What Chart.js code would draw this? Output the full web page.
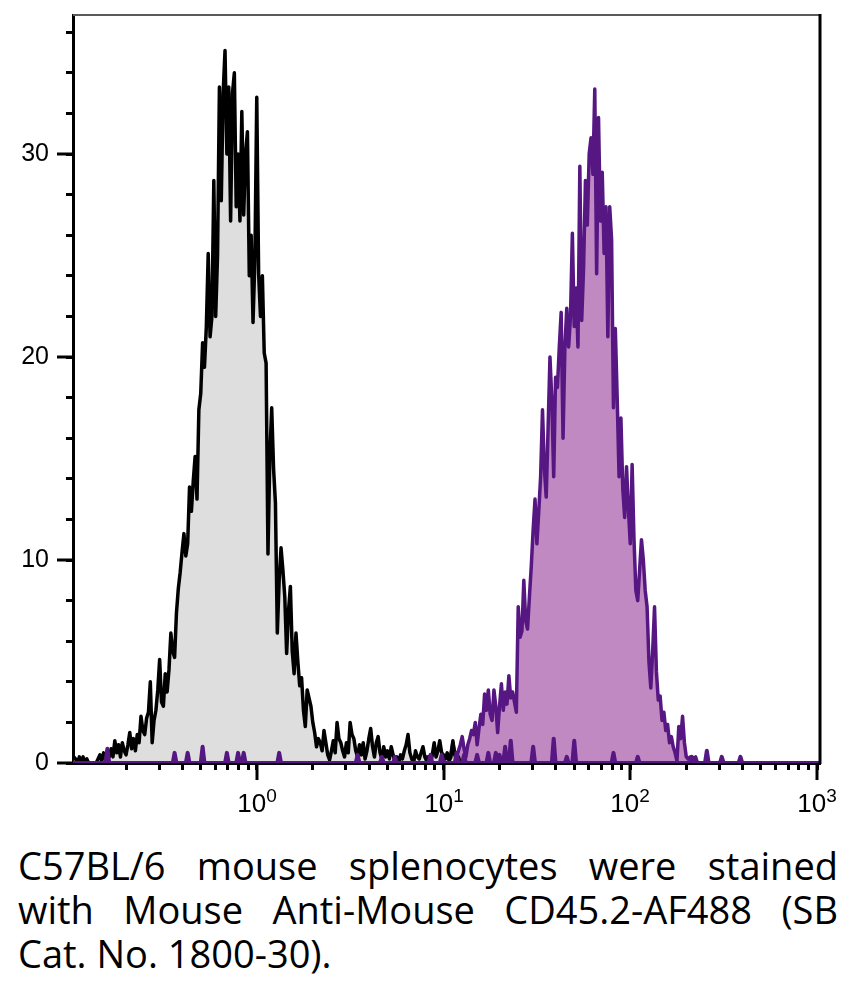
<!DOCTYPE html>
<html lang="en">
<head>
    <meta charset="UTF-8">
    <script src="https://cdn.jsdelivr.net/npm/chart.js"></script>
    <title>CD45.2-AF488 staining of C57BL/6 splenocytes</title>
    <style>
        body { margin: 0; background: #fff; }
        #wrap { position: relative; width: 850px; height: 999px; }
        #histo { position: absolute; left: 0; top: 0; }
        #caption {
            position: absolute; left: 18px; top: 843px; width: 820px;
            font-family: "Open Sans", sans-serif; font-size: 38px; line-height: 44px; color: #000;
        }
        #caption .just { text-align: justify; text-align-last: justify; }
    </style>
</head>
<body>
<div id="wrap">
    <canvas id="histo" width="850" height="830"></canvas>
    <div id="caption">
        <div class="just">C57BL/6 mouse splenocytes were stained</div>
        <div class="just">with Mouse Anti-Mouse CD45.2-AF488 (SB</div>
        <div>Cat. No. 1800-30).</div>
    </div>
</div>

<script>
    // channel positions in decades (log10 of fluorescence)
    const channels = [
        -0.98,-0.97,-0.96,-0.95,-0.94,-0.93,-0.92,-0.91,-0.90,-0.89,
        -0.88,-0.87,-0.86,-0.85,-0.84,-0.83,-0.82,-0.81,-0.80,-0.79,
        -0.78,-0.77,-0.76,-0.75,-0.74,-0.73,-0.72,-0.71,-0.70,-0.69,
        -0.68,-0.67,-0.66,-0.65,-0.64,-0.63,-0.62,-0.61,-0.60,-0.59,
        -0.58,-0.57,-0.56,-0.55,-0.54,-0.53,-0.52,-0.51,-0.50,-0.49,
        -0.48,-0.47,-0.46,-0.45,-0.44,-0.43,-0.42,-0.41,-0.40,-0.39,
        -0.38,-0.37,-0.36,-0.35,-0.34,-0.33,-0.32,-0.31,-0.30,-0.29,
        -0.28,-0.27,-0.26,-0.25,-0.24,-0.23,-0.22,-0.21,-0.20,-0.19,
        -0.18,-0.17,-0.16,-0.15,-0.14,-0.13,-0.12,-0.11,-0.10,-0.09,
        -0.08,-0.07,-0.06,-0.05,-0.04,-0.03,-0.02,-0.01,0.00,0.01,
        0.02,0.03,0.04,0.05,0.06,0.07,0.08,0.09,0.10,0.11,
        0.12,0.13,0.14,0.15,0.16,0.17,0.18,0.19,0.20,0.21,
        0.22,0.23,0.24,0.25,0.26,0.27,0.28,0.29,0.30,0.31,
        0.32,0.33,0.34,0.35,0.36,0.37,0.38,0.39,0.40,0.41,
        0.42,0.43,0.44,0.45,0.46,0.47,0.48,0.49,0.50,0.51,
        0.52,0.53,0.54,0.55,0.56,0.57,0.58,0.59,0.60,0.61,
        0.62,0.63,0.64,0.65,0.66,0.67,0.68,0.69,0.70,0.71,
        0.72,0.73,0.74,0.75,0.76,0.77,0.78,0.79,0.80,0.81,
        0.82,0.83,0.84,0.85,0.86,0.87,0.88,0.89,0.90,0.91,
        0.92,0.93,0.94,0.95,0.96,0.97,0.98,0.99,1.00,1.01,
        1.02,1.03,1.04,1.05,1.06,1.07,1.08,1.09,1.10,1.11,
        1.12,1.13,1.14,1.15,1.16,1.17,1.18,1.19,1.20,1.21,
        1.22,1.23,1.24,1.25,1.26,1.27,1.28,1.29,1.30,1.31,
        1.32,1.33,1.34,1.35,1.36,1.37,1.38,1.39,1.40,1.41,
        1.42,1.43,1.44,1.45,1.46,1.47,1.48,1.49,1.50,1.51,
        1.52,1.53,1.54,1.55,1.56,1.57,1.58,1.59,1.60,1.61,
        1.62,1.63,1.64,1.65,1.66,1.67,1.68,1.69,1.70,1.71,
        1.72,1.73,1.74,1.75,1.76,1.77,1.78,1.79,1.80,1.81,
        1.82,1.83,1.84,1.85,1.86,1.87,1.88,1.89,1.90,1.91,
        1.92,1.93,1.94,1.95,1.96,1.97,1.98,1.99,2.00,2.01,
        2.02,2.03,2.04,2.05,2.06,2.07,2.08,2.09,2.10,2.11,
        2.12,2.13,2.14,2.15,2.16,2.17,2.18,2.19,2.20,2.21,
        2.22,2.23,2.24,2.25,2.26,2.27,2.28,2.29,2.30,2.31,
        2.32,2.33,2.34,2.35,2.36,2.37,2.38,2.39,2.40
    ];

    // unstained control (grey)
    const unstainedCounts = [
        0.3,0.2,0,0.3,0.1,0.3,0,0.2,0,0,
        0,0,0,0.2,0.4,0.1,0.5,0.2,0.6,0.3,
        0.7,0.3,1.1,0.5,0.9,0.3,1.0,0.6,0.4,0.9,
        1.5,0.7,1.2,0.6,1.4,1.0,2.3,1.6,1.4,2.2,
        2.5,4.0,1.0,2.1,2.6,3.6,5.1,3.0,2.8,4.4,
        3.5,4.6,6.4,5.5,5.2,7.4,8.6,9.4,10.4,11.3,
        10.2,10.8,13.6,12.4,13.9,15.1,13.0,17.4,18.2,20.7,
        19.5,21.5,25.1,21.0,22.0,28.7,22.0,25.0,33.3,27.7,
        33.0,35.1,30.0,33.3,26.7,33.0,34.0,27.4,30.0,26.7,
        32.1,27.0,30.0,31.1,24.0,26.0,21.7,24.8,32.8,24.1,
        22.0,24.0,20.2,19.7,10.3,15.1,17.5,14.5,12.8,6.4,
        9.0,10.6,9.5,8.2,5.4,7.5,8.7,5.5,4.4,6.4,
        5.0,3.8,4.2,2.6,1.8,3.6,3.2,2.8,2.0,1.5,
        0.8,1.2,1.0,0.6,1.6,1.0,0.4,0.15,0.6,1.1,
        0.5,2.0,1.2,1.0,0.6,0.3,1.0,0.5,2.0,1.4,
        1.2,0.6,0.3,0.9,0.4,1.0,0.2,0.6,1.2,1.7,
        0.8,0.3,1.0,1.3,0.5,0.2,0.8,0.3,0.6,0.2,
        0.8,0.4,0.1,0.3,0,0.4,0.2,0.6,0.9,1.4,
        0.5,0.2,0,0.6,0.3,0.2,0.5,0.8,0.3,0.1,
        0.3,0,0.4,1.0,0.3,0.6,1.1,0.5,0.4,0.2,
        0.5,0.1,0.3,1.1,0.4,0.2,0.3,0,0,0,
        0,0,0,0,0,0,0,0,0,0,
        0,0,0,0,0,0,0,0,0,0,
        0,0,0,0,0,0,0,0,0,0,
        0,0,0,0,0,0,0,0,0,0,
        0,0,0,0,0,0,0,0,0,0,
        0,0,0,0,0,0,0,0,0,0,
        0,0,0,0,0,0,0,0,0,0,
        0,0,0,0,0,0,0,0,0,0,
        0,0,0,0,0,0,0,0,0,0,
        0,0,0,0,0,0,0,0,0,0,
        0,0,0,0,0,0,0,0,0,0,
        0,0,0,0,0,0,0,0,0,0,
        0,0,0,0,0,0,0,0,0
    ];

    // CD45.2-AF488 stained (purple)
    const stainedCounts = [
        0,0,0,0,0,0,0,0,0,0,
        0,0,0,0,0,0,0,0,0,0,
        0,0,0,0,0,0,0,0,0,0,
        0,0,0,0,0,0,0,0,0,0,
        0,0,0,0,0,0,0,0,0,0,
        0,0,0,0,0,0,0,0,0,0,
        0,0,0,0,0,0,0,0,0,0,
        0,0,0,0,0,0,0,0,0,0,
        0,0,0,0,0,0,0,0,0,0,
        0,0,0,0,0,0,0,0,0,0,
        0,0,0,0,0,0,0,0,0,0,
        0,0,0,0,0,0,0,0,0,0,
        0,0,0,0,0,0,0,0,0,0,
        0,0,0,0,0,0,0,0,0,0,
        0,0,0,0,0,0,0,0,0,0,
        0,0,0,0,0,0,0,0,0,0,
        0,0,0,0,0,0,0,0,0,0,
        0,0,0,0,0,0,0,0,0,0,
        0,0,0,0,0,0,0,0,0.1,0.3,
        0.2,0,0.3,0.4,0.2,0.3,0.1,0.4,0.3,0.2,
        0.4,0.2,0.5,1.0,0.5,0.3,0.6,0.9,1.3,0.7,
        0.3,0.9,1.2,1.6,1.4,2.0,0.9,1.7,2.4,1.9,
        3.4,2.6,3.6,2.4,2.1,3.6,2.8,1.5,2.8,3.9,
        2.6,3.5,2.9,4.3,3.2,3.5,3.0,2.5,7.7,6.2,
        6.5,9.0,7.0,6.6,8.2,9.7,11.5,13.0,10.8,12.4,
        14.1,17.4,14.5,13.1,16.5,20.0,17.9,14.1,19.0,18.5,
        20.5,22.2,16.0,20.5,22.4,20.5,22.0,26.1,21.5,23.4,
        20.5,29.4,21.8,24.4,28.7,26.5,30.0,30.8,29.0,33.2,
        24.1,31.8,26.7,29.1,25.1,27.4,21.0,27.4,25.8,17.5,
        21.4,18.0,14.1,17.0,13.5,12.1,14.6,12.5,10.8,14.7,
        11.0,8.5,8.0,9.5,11.0,10.0,8.5,7.7,5.0,3.7,
        5.5,7.7,4.5,3.1,3.3,2.1,2.5,1.6,1.9,1.0,
        1.3,0.8,0.5,0.1,1.8,1.2,2.3,1.0,0.3,0.2,
        0.3,0.3,0.2,0.3,0,0,0,0,0
    ];

    // scattered single events near the baseline (purple)
    const eventChannels = [
        -0.98,
        -0.81,-0.80,-0.79,
        -0.45,-0.44,-0.43,
        -0.38,-0.37,-0.36,
        -0.30,-0.29,-0.28,
        -0.17,-0.16,-0.15,
        -0.11,-0.10,-0.09,
        -0.08,-0.07,-0.06,
        0.11,0.12,0.13,
        0.53,0.54,0.55,
        0.66,0.67,0.68,
        0.73,0.74,0.75,
        0.92,0.93,0.94,
        0.98,0.99,1.00,
        1.06,1.07,1.08,
        1.10,1.11,1.12,
        1.17,1.18,1.19,
        1.23,1.24,1.25,
        1.27,1.28,1.29,1.30,1.31,
        1.32,1.33,1.34,
        1.35,1.36,1.37,
        1.47,1.48,1.49,
        1.58,1.59,1.60,
        1.65,1.66,1.67,
        1.69,1.70,1.71,
        1.90,1.91,1.92,
        2.03,2.04,2.05,
        2.32,2.33,2.34,
        2.40,2.41,2.42,
        2.48,2.49,2.50,
        2.58,2.59,2.60,
        3.01
    ];
    const eventCounts = [
        0,
        0,0.7,0,
        0,0.5,0,
        0,0.5,0,
        0,0.8,0,
        0,0.5,0,
        0,0.5,0,
        0,0.5,0,
        0,0.5,0,
        0,0.4,0,
        0,0.3,0,
        0,0.3,0,
        0,0.4,0,
        0,0.4,0,
        0,0.5,0,
        0,0.4,0,
        0,0.4,0,
        0,0.5,0,
        0,0.5,0,0.4,0,
        0,0.8,0,
        0,1.1,0,
        0,0.8,0,
        0,1.2,0,
        0,0.3,0,
        0,1.1,0,
        0,0.5,0,
        0,0.3,0,
        0,0.3,0,
        0,0.6,0,
        0,0.3,0,
        0,0.3,0,
        0
    ];

    const decades = [0, 1, 2, 3];
    const yLabelStep = 10;

    const toPoints = (xs, ys) => xs.map((x, i) => ({ x: x, y: ys[i] }));

    // frame, long major ticks and 10^n labels
    const axisExtras = {
        id: 'axisExtras',
        afterDraw(chart) {
            const { ctx, chartArea: a, scales: { x, y } } = chart;
            ctx.save();
            ctx.lineCap = 'butt';
            ctx.strokeStyle = '#5a5a5a';
            ctx.lineWidth = 2;
            ctx.beginPath();
            ctx.moveTo(a.left, a.top);
            ctx.lineTo(a.right, a.top);
            ctx.stroke();

            ctx.strokeStyle = '#000';
            ctx.lineWidth = 3;
            ctx.beginPath();
            ctx.moveTo(a.right, a.top - 1);
            ctx.lineTo(a.right, a.bottom + 1);
            ctx.stroke();

            y.ticks.forEach(t => {
                if (t.value % yLabelStep !== 0) return;
                const py = Math.round(y.getPixelForValue(t.value));
                ctx.beginPath();
                ctx.moveTo(a.left - 16, py);
                ctx.lineTo(a.left, py);
                ctx.stroke();
            });

            decades.forEach(d => {
                const px = Math.round(x.getPixelForValue(d));
                ctx.beginPath();
                ctx.moveTo(px, a.bottom);
                ctx.lineTo(px, a.bottom + 17);
                ctx.stroke();

                ctx.fillStyle = '#000';
                ctx.textBaseline = 'alphabetic';
                ctx.textAlign = 'left';
                ctx.font = '26px "Liberation Sans Narrow", "Liberation Sans", sans-serif';
                const w1 = ctx.measureText('10').width;
                ctx.font = '19px "Liberation Sans Narrow", "Liberation Sans", sans-serif';
                const w2 = ctx.measureText(String(d)).width;
                const start = px - (w1 + w2) / 2;
                ctx.font = '26px "Liberation Sans Narrow", "Liberation Sans", sans-serif';
                ctx.fillText('10', start, a.bottom + 49);
                ctx.font = '19px "Liberation Sans Narrow", "Liberation Sans", sans-serif';
                ctx.fillText(String(d), start + w1, a.bottom + 39);
            });
            ctx.restore();
        }
    };

    new Chart(document.getElementById('histo'), {
        type: 'line',
        data: {
            datasets: [
                {
                    label: 'Unstained',
                    data: toPoints(channels, unstainedCounts),
                    borderColor: '#000',
                    backgroundColor: '#dedede',
                    fill: 'origin',
                    borderWidth: 3.5,
                    order: 1
                },
                {
                    label: 'CD45.2-AF488',
                    data: toPoints(channels, stainedCounts),
                    borderColor: '#561783',
                    backgroundColor: '#c089c1',
                    fill: 'origin',
                    borderWidth: 3.5,
                    order: 2
                },
                {
                    label: 'CD45.2-AF488 events',
                    data: toPoints(eventChannels, eventCounts),
                    borderColor: '#561783',
                    fill: false,
                    borderWidth: 4,
                    order: 0
                }
            ]
        },
        options: {
            responsive: false,
            animation: false,
            layout: { padding: { left: 0, right: 30, top: 15, bottom: 0 } },
            elements: {
                point: { radius: 0 },
                line: { tension: 0, borderJoinStyle: 'round', borderCapStyle: 'round' }
            },
            plugins: {
                legend: { display: false },
                tooltip: { enabled: false }
            },
            scales: {
                x: {
                    type: 'linear',
                    min: -0.984,
                    max: 3.016,
                    z: 1,
                    afterBuildTicks: axis => {
                        const ticks = [];
                        [-1, 0, 1, 2, 3].forEach(d => {
                            for (let k = 1; k <= 9; k++) {
                                const v = d + Math.log10(k);
                                if (v >= axis.min && v <= axis.max) ticks.push({ value: v });
                            }
                        });
                        axis.ticks = ticks;
                    },
                    ticks: { display: false, autoSkip: false },
                    grid: { drawOnChartArea: false, tickLength: 7, tickWidth: 3, tickColor: '#000' },
                    border: { color: '#000', width: 3 },
                    afterFit: s => {
                        s.height = 67;
                        s.paddingLeft = 0;
                        s.paddingRight = 0;
                    }
                },
                y: {
                    min: 0,
                    max: 36.85,
                    z: 1,
                    ticks: {
                        stepSize: 2,
                        includeBounds: false,
                        autoSkip: false,
                        padding: 17,
                        color: '#000',
                        font: { family: 'Liberation Sans', size: 25 },
                        callback: v => (v % yLabelStep === 0 ? v : '')
                    },
                    grid: { drawOnChartArea: false, tickLength: 7, tickWidth: 3, tickColor: '#000' },
                    border: { color: '#000', width: 3 },
                    afterFit: s => {
                        s.width = 73;
                        s.paddingTop = 0;
                        s.paddingBottom = 0;
                    }
                }
            }
        },
        plugins: [axisExtras]
    });
</script>
</body>
</html>
